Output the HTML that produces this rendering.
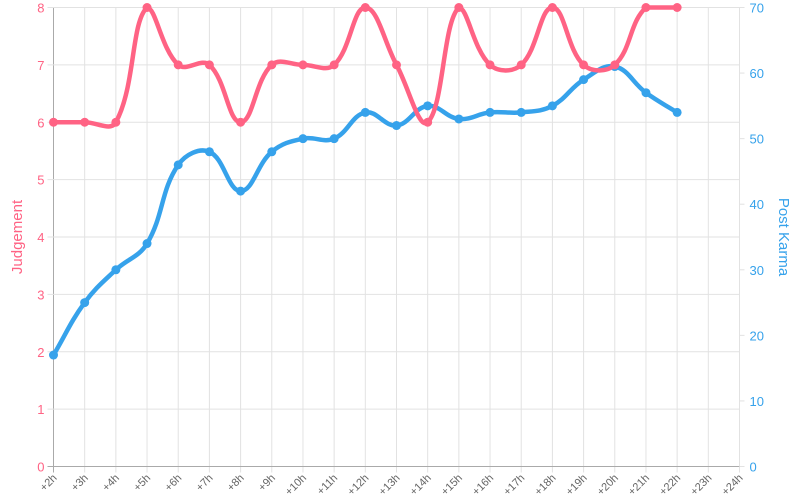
<!DOCTYPE html>
<html><head><meta charset="utf-8"><style>
html,body{margin:0;padding:0;background:#fff;}
svg{display:block;font-family:"Liberation Sans",sans-serif;}
</style></head><body>
<svg id="s" width="800" height="500" viewBox="0 0 800 500"></svg>
<script>
const s=document.getElementById('s');
const L=53.5,R=739.5,T=7.5,B=466.5;
const n=23,dx=(R-L)/22;
let h='';
for(let i=0;i<n;i++){const x=L+i*dx;
 h+=`<line x1="${x}" y1="${T}" x2="${x}" y2="${B+6}" stroke="${i==0?'#aaa':'#e2e2e2'}" stroke-width="1"/>`;
 const lab='+'+(i+2)+'h';
 h+=`<text transform="translate(${x+4},${B+12}) rotate(-45)" text-anchor="end" font-size="11" fill="#666">${lab}</text>`;
}
for(let k=0;k<=8;k++){const y=B-k*(B-T)/8;
 h+=`<line x1="${L-6}" y1="${y}" x2="${R}" y2="${y}" stroke="${k==0?'#aaa':'#e2e2e2'}" stroke-width="1"/>`;
 h+=`<text x="${L-9}" y="${y+5}" text-anchor="end" font-size="13" fill="#ff6384">${k}</text>`;
}
h+=`<line x1="${R}" y1="${T}" x2="${R}" y2="${B}" stroke="#e2e2e2"/>`;
for(let k=0;k<=7;k++){const y=B-k*(B-T)/7;
 h+=`<line x1="${R}" y1="${y}" x2="${R+5}" y2="${y}" stroke="#e2e2e2"/>`;
 h+=`<text x="${R+10}" y="${y+5}" font-size="13" fill="#36a2eb">${k*10}</text>`;
}
h+=`<text transform="translate(22,237) rotate(-90)" text-anchor="middle" font-size="15" fill="#ff6384">Judgement</text>`;
h+=`<text transform="translate(779,237) rotate(90)" text-anchor="middle" font-size="15" fill="#36a2eb">Post Karma</text>`;
function cl(v){return Math.max(T,Math.min(B,v));}
function path(vals,max,col){
 const p=vals.map((v,i)=>[L+i*dx,B-v/max*(B-T)]);
 const t=0.4;let d=`M${p[0][0]},${p[0][1]}`;
 const cp=[];
 for(let i=0;i<p.length;i++){
  const pr=p[Math.max(0,i-1)],nx=p[Math.min(p.length-1,i+1)],c=p[i];
  const d01=Math.hypot(c[0]-pr[0],c[1]-pr[1]),d12=Math.hypot(nx[0]-c[0],nx[1]-c[1]);
  const fa=d01+d12?t*d01/(d01+d12):0,fb=d01+d12?t*d12/(d01+d12):0;
  cp.push([[c[0]-fa*(nx[0]-pr[0]),cl(c[1]-fa*(nx[1]-pr[1]))],[c[0]+fb*(nx[0]-pr[0]),cl(c[1]+fb*(nx[1]-pr[1]))]]);
 }
 for(let i=1;i<p.length;i++){const a=cp[i-1][1],b=cp[i][0];
  d+=` C${a[0]},${a[1]} ${b[0]},${b[1]} ${p[i][0]},${p[i][1]}`;}
 let o=`<path d="${d}" fill="none" stroke="${col}" stroke-width="4.5" stroke-linejoin="round"/>`;
 p.forEach(q=>o+=`<circle cx="${q[0]}" cy="${q[1]}" r="4.5" fill="${col}"/>`);
 return o;
}
h+=path([17,25,30,34,46,48,42,48,50,50,54,52,55,53,54,54,55,59,61,57,54],70,'#36a2eb');
h+=path([6,6,6,8,7,7,6,7,7,7,8,7,6,8,7,7,8,7,7,8,8],8,'#ff6384');
s.innerHTML=h;
</script>
</body></html>
